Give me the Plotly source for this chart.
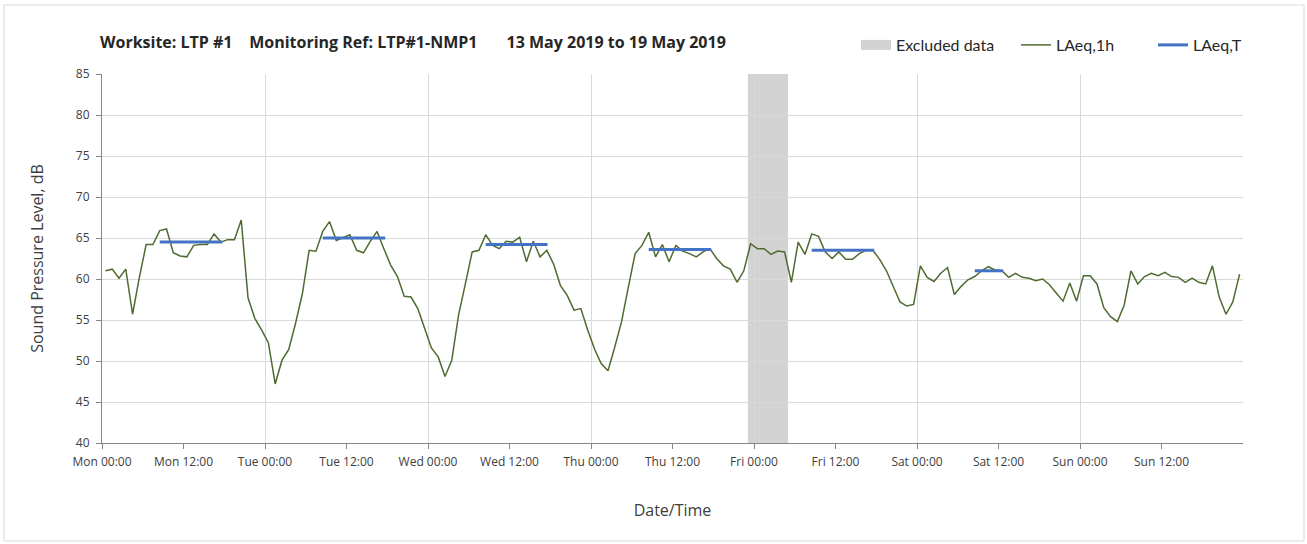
import plotly.graph_objects as go

# ---- data ----
laeq_1h = [
    61.0, 61.2, 60.1, 61.2, 55.7, 60.2, 64.2, 64.2, 65.9, 66.1, 63.2, 62.8, 62.7, 64.1, 64.2, 64.2,
    65.5, 64.5, 64.8, 64.8, 67.2, 57.7, 55.2, 53.8,
    52.2, 47.2, 50.1, 51.4, 54.6, 58.2, 63.5, 63.4, 65.8, 67.0, 64.7, 65.1, 65.4, 63.5, 63.2, 64.6,
    65.8, 63.7, 61.7, 60.3, 57.9, 57.8, 56.4, 54.0,
    51.6, 50.5, 48.1, 50.1, 55.6, 59.4, 63.3, 63.5, 65.4, 64.1, 63.7, 64.6, 64.5, 65.1, 62.1, 64.6,
    62.7, 63.5, 61.8, 59.2, 58.0, 56.2, 56.4, 53.8,
    51.5, 49.7, 48.8, 51.7, 54.8, 59.0, 63.1, 64.1, 65.7, 62.7, 64.2, 62.1, 64.1, 63.4, 63.1, 62.7,
    63.3, 63.7, 62.5, 61.6, 61.2, 59.6, 61.0, 64.3,
    63.7, 63.7, 63.0, 63.4, 63.3, 59.6, 64.5, 63.0, 65.5, 65.2, 63.3, 62.5, 63.3, 62.4, 62.4, 63.1,
    63.5, 63.5, 62.4, 61.0, 59.1, 57.2, 56.7, 56.9,
    61.6, 60.2, 59.7, 60.7, 61.4, 58.1, 59.1, 59.9, 60.3, 61.0, 61.5, 61.1, 61.0, 60.2, 60.7, 60.2,
    60.1, 59.8, 60.0, 59.3, 58.3, 57.3, 59.5, 57.3,
    60.4, 60.4, 59.4, 56.5, 55.4, 54.8, 56.8, 61.0, 59.4, 60.3, 60.7, 60.4, 60.8, 60.3, 60.2, 59.6,
    60.1, 59.6, 59.4, 61.6, 57.8, 55.7, 57.2, 60.6,
]
hours = [h + 0.5 for h in range(len(laeq_1h))]   # hourly values, hours since Mon 00:00

laeq_t_start = [8.5, 32.5, 56.5, 80.5, 104.5, 128.5]
laeq_t_end = [17.7, 41.7, 65.6, 89.7, 113.7, 132.7]
laeq_t_level = [64.5, 65.0, 64.2, 63.6, 63.5, 61.0]

excluded_start = 95.1
excluded_end = 101.0

tick_hours = list(range(0, 168, 12))
tick_labels = ["Mon 00:00", "Mon 12:00", "Tue 00:00", "Tue 12:00", "Wed 00:00", "Wed 12:00",
               "Thu 00:00", "Thu 12:00", "Fri 00:00", "Fri 12:00", "Sat 00:00", "Sat 12:00",
               "Sun 00:00", "Sun 12:00"]
day_hours = list(range(24, 169, 24))

# ---- figure ----
W, H = 1307, 544
L, R, T, B = 102, 64, 74, 101
pw, ph = W - L - R, H - T - B

FONT = "'Open Sans', Lato, sans-serif"
LEG_FONT = "Lato, 'Open Sans', sans-serif"
green = "#4e6b30"
blue = "#4472c4"
grey_fill = "#d3d3d3"

fig = go.Figure()

# legend entry for the excluded-data band (the band itself is drawn as a shape below the grid)
fig.add_trace(go.Scatter(
    x=[None], y=[None], mode="lines", name="Excluded data",
    line=dict(color=grey_fill, width=12), hoverinfo="skip", legend="legend",
))

fig.add_trace(go.Scatter(
    x=hours, y=laeq_1h, mode="lines", name="LAeq,1h",
    line=dict(color=green, width=1.5), legend="legend2",
))

tx, ty = [], []
for s, e, v in zip(laeq_t_start, laeq_t_end, laeq_t_level):
    tx += [s, e, None]
    ty += [v, v, None]
fig.add_trace(go.Scatter(
    x=tx, y=ty, mode="lines", name="LAeq,T",
    line=dict(color=blue, width=3), legend="legend2",
))

# overlay axis that only carries the day gridlines
fig.add_trace(go.Scatter(x=[None], y=[None], xaxis="x2", showlegend=False, hoverinfo="skip"))

shapes = [
    dict(type="rect", xref="x", yref="y domain", x0=excluded_start, x1=excluded_end, y0=0, y1=1,
         fillcolor=grey_fill, line=dict(width=0), layer="below"),
    # chart-area border
    dict(type="rect", xref="paper", yref="paper",
         x0=(4 - L) / pw, x1=(W - 3 - L) / pw, y0=-(B - 3) / ph, y1=1 + (T - 5) / ph,
         line=dict(color="#d9d9d9", width=1), fillcolor="rgba(0,0,0,0)", layer="below"),
]

axis_col = "#868686"
grid_col = "#d9d9d9"
tick_font = dict(family=FONT, size=12, color="#404040")
sp4 = "&nbsp;" * 4
sp7 = "&nbsp;" * 7
leg_font = dict(family=LEG_FONT, size=16, color="#262626")
leg_y = 1 + (T - 45) / ph

fig.update_layout(
    width=W, height=H,
    margin=dict(l=L, r=R, t=T, b=B, autoexpand=False),
    paper_bgcolor="white", plot_bgcolor="white",
    font=dict(family=FONT, color="#404040"),
    title=dict(
        text=f"<b>Worksite: LTP #1{sp4}Monitoring Ref: LTP#1-NMP1{sp7}13 May 2019 to 19 May 2019</b>",
        font=dict(family=FONT, size=16, color="#262626"),
        xref="container", yref="container", x=100 / W, xanchor="left",
        y=1 - 42 / H, yanchor="middle",
    ),
    xaxis=dict(
        range=[0, 168], tickvals=tick_hours, ticktext=tick_labels,
        showgrid=False, zeroline=False, showline=True, linecolor=axis_col, linewidth=1,
        ticks="outside", ticklen=5, tickcolor=axis_col, tickfont=tick_font, ticklabelstandoff=3,
        title=dict(text="Date/Time", font=dict(family=FONT, size=16, color="#404040"), standoff=35),
    ),
    xaxis2=dict(
        range=[0, 168], overlaying="x", tickvals=day_hours, showticklabels=False,
        showgrid=True, gridcolor=grid_col, gridwidth=1, zeroline=False, showline=False, ticks="",
    ),
    yaxis=dict(
        range=[40, 85], dtick=5, showgrid=True, gridcolor=grid_col, gridwidth=1,
        zeroline=False, showline=True, linecolor=axis_col, linewidth=1,
        ticks="outside", ticklen=5, tickcolor=axis_col, tickfont=tick_font, ticklabelstandoff=4,
        title=dict(text="Sound Pressure Level, dB", font=dict(family=FONT, size=16, color="#404040"), standoff=28),
    ),
    legend=dict(
        orientation="h", xanchor="left", x=(856 - L) / pw, yanchor="middle", y=leg_y,
        font=leg_font, bgcolor="rgba(0,0,0,0)",
    ),
    legend2=dict(
        orientation="h", xanchor="left", x=(1016 - L) / pw, yanchor="middle", y=leg_y,
        font=leg_font, bgcolor="rgba(0,0,0,0)", entrywidth=92, traceorder="normal",
    ),
    shapes=shapes,
    showlegend=True,
)

fig.write_html("out.html", post_script="document.body.style.margin='0';",
               config={"displayModeBar": False})
